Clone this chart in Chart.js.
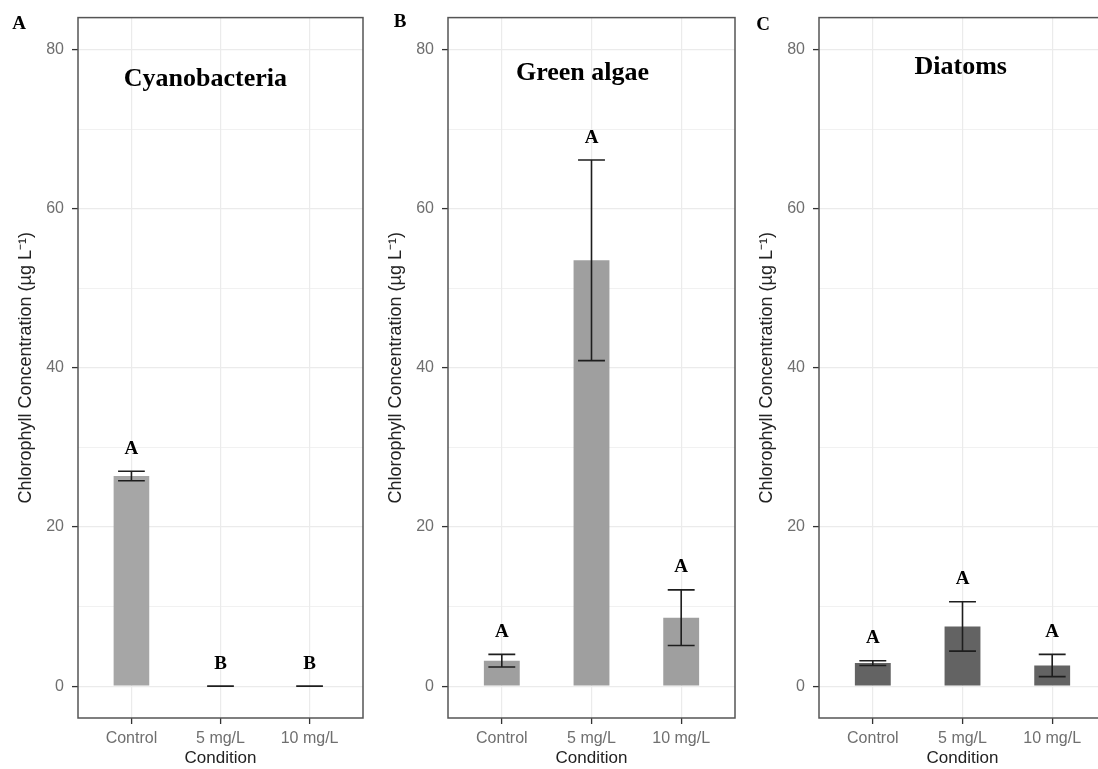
<!DOCTYPE html>
<html lang="en">
<head>
<meta charset="UTF-8">
<title>Chlorophyll Concentration by Condition</title>
<script src="https://cdn.jsdelivr.net/npm/chart.js"></script>
<style>
    body {
        margin: 0;
        background: #fff;
        width: 1098px;
        height: 769px;
        overflow: hidden;
        position: relative;
    }

    .panel {
        position: absolute;
        top: 0;
        width: 370px;
        height: 769px;
    }
</style>
</head>
<body>

<div class="panel" style="left:0px"><canvas id="chartA"></canvas></div>
<div class="panel" style="left:370px"><canvas id="chartB"></canvas></div>
<div class="panel" style="left:741px"><canvas id="chartC"></canvas></div>

<script>
    const conditions = ['Control', '5 mg/L', '10 mg/L'];

    const cyanoMean = [26.4, 0, 0];
    const cyanoSe = [0.6, 0, 0];
    const cyanoLetters = ['A', 'B', 'B'];

    const greenMean = [3.2, 53.5, 8.6];
    const greenSe = [0.8, 12.6, 3.5];
    const greenLetters = ['A', 'A', 'A'];

    const diatomMean = [2.9, 7.5, 2.6];
    const diatomSe = [0.3, 3.1, 1.4];
    const diatomLetters = ['A', 'A', 'A'];

    const yMajorTicks = [0, 20, 40, 60, 80];
    const yMinorTicks = [10, 30, 50, 70];

    const yTitle = 'Chlorophyll Concentration (\u00b5g L\u207b\u00b9)';
    const xTitle = 'Condition';

    const panels = [
        { id: 'chartA', tag: 'A', title: 'Cyanobacteria', mean: cyanoMean, se: cyanoSe, letters: cyanoLetters,
          color: '#a6a6a6', padRight: 7, tagAt: [19, 24], titleAt: [0.83, 76.2] },
        { id: 'chartB', tag: 'B', title: 'Green algae', mean: greenMean, se: greenSe, letters: greenLetters,
          color: '#9f9f9f', padRight: 5, tagAt: [30, 22], titleAt: [0.9, 77] },
        { id: 'chartC', tag: 'C', title: 'Diatoms', mean: diatomMean, se: diatomSe, letters: diatomLetters,
          color: '#636363', padRight: 5, tagAt: [22, 25], titleAt: [0.98, 77.8] }
    ];

    const serif = '"Liberation Serif", "Times New Roman", serif';
    const sans = '"Liberation Sans", Arial, sans-serif';
    const allYTicks = [...yMajorTicks, ...yMinorTicks].sort((a, b) => a - b);
    const isMajor = v => yMajorTicks.includes(v);

    // error bars, significance letters, panel title, border and tag
    function decor(p) {
        return {
            id: 'decor',
            afterDatasetsDraw(chart) {
                const { ctx, scales: { x, y } } = chart;
                ctx.save();
                ctx.strokeStyle = '#1e1e1e';
                ctx.lineWidth = 1.6;
                p.mean.forEach((m, i) => {
                    const cx = x.getPixelForValue(i);
                    const x0 = x.getPixelForValue(i - 0.15);
                    const x1 = x.getPixelForValue(i + 0.15);
                    const yt = y.getPixelForValue(m + p.se[i]);
                    const yb = y.getPixelForValue(m - p.se[i]);
                    ctx.beginPath();
                    ctx.moveTo(cx, yt); ctx.lineTo(cx, yb);
                    ctx.moveTo(x0, yt); ctx.lineTo(x1, yt);
                    ctx.moveTo(x0, yb); ctx.lineTo(x1, yb);
                    ctx.stroke();
                });

                ctx.fillStyle = '#000';
                ctx.textAlign = 'center';
                ctx.textBaseline = 'middle';
                ctx.font = 'bold 19px ' + serif;
                p.letters.forEach((t, i) => {
                    ctx.fillText(t, x.getPixelForValue(i), y.getPixelForValue(p.mean[i] + p.se[i] + 2.8));
                });

                ctx.font = 'bold 26px ' + serif;
                ctx.fillText(p.title, x.getPixelForValue(p.titleAt[0]), y.getPixelForValue(p.titleAt[1]));
                ctx.restore();
            },
            afterDraw(chart) {
                const { ctx, chartArea: a } = chart;
                ctx.save();
                ctx.strokeStyle = '#555';
                ctx.lineWidth = 1.5;
                ctx.strokeRect(a.left, a.top, a.right - a.left, a.bottom - a.top);
                ctx.fillStyle = '#000';
                ctx.textAlign = 'center';
                ctx.textBaseline = 'middle';
                ctx.font = 'bold 19px ' + serif;
                ctx.fillText(p.tag, p.tagAt[0], p.tagAt[1]);
                ctx.restore();
            }
        };
    }

    panels.forEach(p => {
        const ctx = document.getElementById(p.id).getContext('2d');
        new Chart(ctx, {
            type: 'bar',
            data: {
                datasets: [{
                    data: p.mean.map((m, i) => ({ x: i, y: m })),
                    backgroundColor: p.color,
                    borderWidth: 0,
                    barPercentage: 0.4,
                    categoryPercentage: 1
                }]
            },
            options: {
                responsive: true,
                maintainAspectRatio: false,
                animation: false,
                layout: { padding: { left: 0, right: p.padRight, top: 10, bottom: 0 } },
                plugins: {
                    legend: { display: false },
                    tooltip: { enabled: false }
                },
                scales: {
                    x: {
                        type: 'linear',
                        min: -0.6,
                        max: 2.6,
                        offset: false,
                        afterBuildTicks: s => { s.ticks = conditions.map((c, i) => ({ value: i })); },
                        afterFit: s => { s.height = 51; },
                        border: { display: false },
                        grid: { offset: false, color: '#ebebeb', lineWidth: 1.2, tickColor: '#333', tickLength: 6, tickWidth: 1.3 },
                        ticks: {
                            autoSkip: false,
                            maxRotation: 0,
                            padding: 5,
                            color: '#6f6f6f',
                            font: { family: sans, size: 16 },
                            callback: v => conditions[v]
                        },
                        title: {
                            display: true,
                            text: xTitle,
                            color: '#222',
                            font: { family: sans, size: 17 },
                            padding: { top: 0, bottom: 0 }
                        }
                    },
                    y: {
                        min: -4,
                        max: 84,
                        afterBuildTicks: s => { s.ticks = allYTicks.map(v => ({ value: v })); },
                        afterFit: s => { s.width = 78; },
                        border: { display: false },
                        grid: {
                            color: '#ebebeb',
                            lineWidth: c => (isMajor(c.tick.value) ? 1.2 : 0.7),
                            tickColor: c => (isMajor(c.tick.value) ? '#333' : 'rgba(0,0,0,0)'),
                            tickLength: 6,
                            tickWidth: 1.3
                        },
                        ticks: {
                            padding: 8,
                            color: '#6f6f6f',
                            font: { family: sans, size: 16 },
                            callback: v => (isMajor(v) ? v : '')
                        },
                        title: {
                            display: true,
                            text: yTitle,
                            color: '#222',
                            font: { family: sans, size: 18 },
                            padding: { top: 15, bottom: 0 }
                        }
                    }
                }
            },
            plugins: [decor(p)]
        });
    });
</script>

</body>
</html>
